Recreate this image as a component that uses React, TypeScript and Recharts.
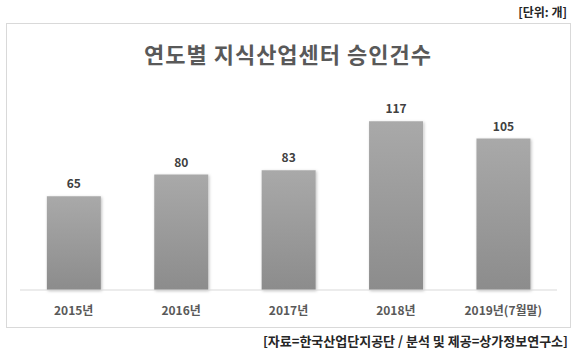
import React from "react";
import { BarChart, Bar, XAxis, YAxis, LabelList } from "recharts";

const years = ["2015년", "2016년", "2017년", "2018년", "2019년(7월말)"];
const approvals = [65, 80, 83, 117, 105];

const data = years.map((year, i) => ({ year, count: approvals[i] }));

const font = '"Noto Sans CJK KR", "Noto Sans", sans-serif';

const App: React.FC = () => {
  return (
    <div
      style={{
        position: "absolute",
        left: 0,
        top: 0,
        width: 576,
        height: 354,
        background: "#ffffff",
        fontFamily: font,
      }}
    >
      {/* unit */}
      <div
        style={{
          position: "absolute",
          right: 9,
          top: 3,
          fontSize: 12,
          fontWeight: 700,
          color: "#262626",
        }}
      >
        [단위: 개]
      </div>

      {/* frame */}
      <div
        style={{
          position: "absolute",
          left: 6,
          top: 23,
          width: 563,
          height: 303,
          border: "1px solid #d9d9d9",
        }}
      />

      {/* title */}
      <div
        style={{
          position: "absolute",
          left: 0,
          width: 576,
          top: 37,
          textAlign: "center",
          fontSize: 22,
          fontWeight: 700,
          letterSpacing: 1,
          color: "#595959",
        }}
      >
        연도별 지식산업센터 승인건수
      </div>

      <div style={{ position: "absolute", left: 0, top: 0 }}>
        <BarChart
          width={576}
          height={354}
          data={data}
          margin={{ top: 88, right: 19, left: 20, bottom: 34 }}
          barCategoryGap="25%"
        >
          <defs>
            <linearGradient id="barFill" x1="0" y1="0" x2="0" y2="1">
              <stop offset="0%" stopColor="#a9a9a9" />
              <stop offset="100%" stopColor="#8c8c8c" />
            </linearGradient>
            <filter id="barShadow" x="-20%" y="-20%" width="140%" height="140%">
              <feDropShadow dx="1" dy="1" stdDeviation="1.5" floodColor="#000" floodOpacity="0.25" />
            </filter>
          </defs>

          <XAxis
            dataKey="year"
            axisLine={{ stroke: "#d9d9d9" }}
            tickLine={false}
            tickMargin={10}
            interval={0}
            height={30}
            tick={{ fill: "#595959", fontSize: 12, fontWeight: 700, fontFamily: font }}
          />
          <YAxis hide domain={[0, 140]} />

          <Bar
            dataKey="count"
            fill="url(#barFill)"
            filter="url(#barShadow)"
            isAnimationActive={false}
          >
            <LabelList
              dataKey="count"
              position="top"
              offset={8}
              style={{ fill: "#404040", fontSize: 12, fontWeight: 700, fontFamily: font }}
            />
          </Bar>
        </BarChart>
      </div>

      {/* source */}
      <div
        style={{
          position: "absolute",
          right: 8,
          top: 331,
          fontSize: 13,
          fontWeight: 700,
          color: "#262626",
          whiteSpace: "nowrap",
        }}
      >
        [자료=한국산업단지공단 / 분석 및 제공=상가정보연구소]
      </div>
    </div>
  );
};

export default App;
